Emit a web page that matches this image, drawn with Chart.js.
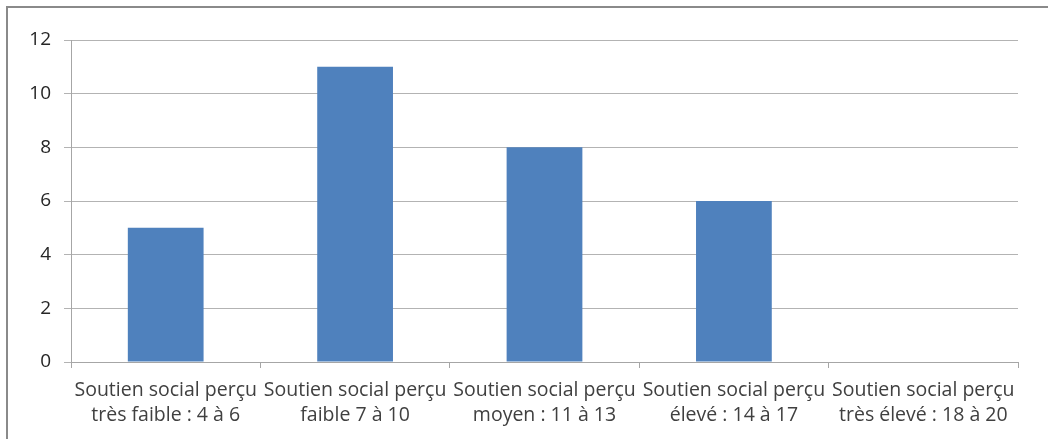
<!DOCTYPE html>
<html>
<head>
<meta charset="utf-8">
<script src="https://cdn.jsdelivr.net/npm/chart.js@4/dist/chart.umd.min.js"></script>
<style>
    html, body { margin: 0; padding: 0; background: #fff; }
    #wrap { position: relative; width: 1048px; height: 439px; overflow: hidden; }
    #frame {
        position: absolute; left: 6px; top: 6px; width: 1100px; height: 500px;
        border-top: 2px solid #8a8a8a; border-left: 2px solid #8a8a8a;
    }
    canvas { position: absolute; left: 0; top: 0; }
</style>
</head>
<body>
<div id="wrap">
    <div id="frame"></div>
    <canvas id="chart" width="1048" height="439"></canvas>
</div>
<script>
// Soutien social perçu, distribution par niveau
const categories = [
    ['Soutien social perçu', 'très faible : 4 à 6'],
    ['Soutien social perçu', 'faible 7 à 10'],
    ['Soutien social perçu', 'moyen : 11 à 13'],
    ['Soutien social perçu', 'élevé : 14 à 17'],
    ['Soutien social perçu', 'très élevé : 18 à 20'],
];
const counts = [5, 11, 8, 6, 0];
const yTicks = [0, 2, 4, 6, 8, 10, 12];

const family = "'Open Sans', sans-serif";

new Chart(document.getElementById('chart'), {
    type: 'bar',
    data: {
        labels: categories,
        datasets: [{
            data: counts,
            backgroundColor: '#4f81bd',
            borderWidth: 0,
            categoryPercentage: 1,
            barPercentage: 0.4,
        }],
    },
    options: {
        responsive: false,
        animation: false,
        layout: { padding: { left: 0, top: 40, right: 30, bottom: 0 } },
        plugins: { legend: { display: false }, tooltip: { enabled: false } },
        scales: {
            x: {
                grid: {
                    offset: true,
                    drawOnChartArea: false,
                    drawTicks: true,
                    tickLength: 6,
                    color: '#a6a6a6',
                },
                border: { display: true, color: '#a6a6a6' },
                ticks: {
                    color: '#404040',
                    font: { family, size: 19.5, lineHeight: '25px' },
                    padding: 10,
                    maxRotation: 0,
                    autoSkip: false,
                },
                afterFit: (scale) => { scale.height = 77; },
            },
            y: {
                min: 0,
                max: 12,
                afterBuildTicks: (scale) => {
                    scale.ticks = yTicks.map((v) => ({ value: v }));
                },
                grid: { color: '#b3b3b3', tickLength: 7 },
                border: { display: true, color: '#a6a6a6' },
                ticks: { color: '#262626', font: { family, size: 19 }, padding: 13 },
                afterFit: (scale) => { scale.width = 71; },
            },
        },
    },
});
</script>
</body>
</html>
